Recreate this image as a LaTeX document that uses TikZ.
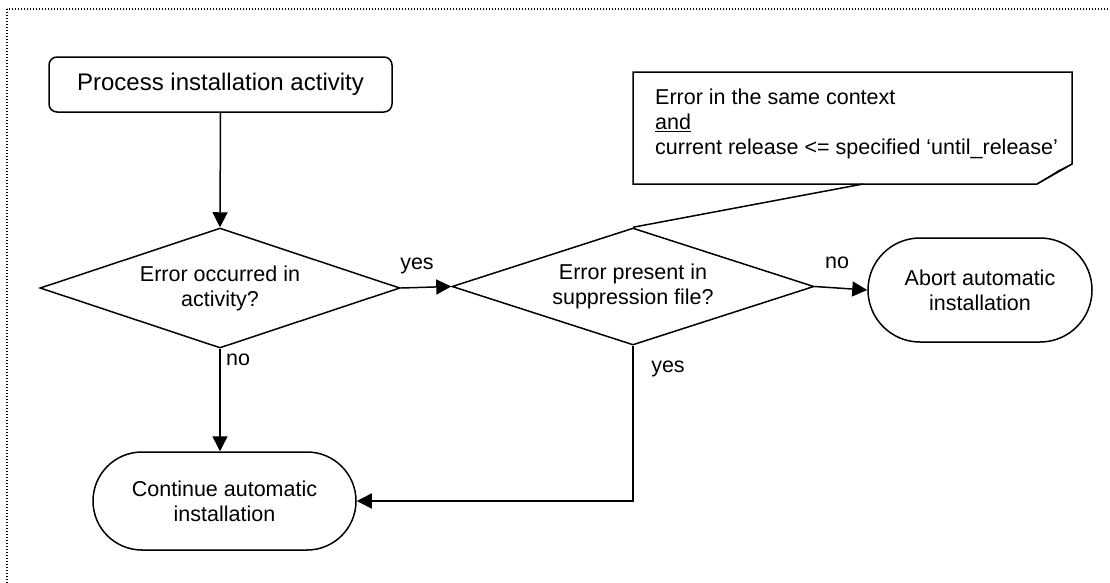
\documentclass[tikz,border=0pt]{standalone}
\usepackage{fontspec}
\setmainfont{Liberation Sans}
\usetikzlibrary{shapes.geometric,arrows.meta}
\begin{document}
\begin{tikzpicture}[x=1pt,y=-1pt,
  txt/.style={font=\fontsize{21.5}{25}\selectfont, align=center},
  proc/.style={draw, line width=1.5pt, rounded corners=8pt, minimum width=343pt, minimum height=55pt, inner sep=0pt, txt},
  term/.style={draw, line width=1.5pt, inner sep=0pt, txt},
  dec/.style={draw, diamond, aspect=2.95, line width=1.5pt, inner sep=0pt, txt},
  arr/.style={line width=1.5pt, -{Triangle[length=15pt,width=15pt]}},
  lbl/.style={font=\fontsize{21.5}{25}\selectfont, inner sep=0pt},
  frame/.style={line width=1.2pt, dash pattern=on 1.2pt off 1.8pt}
]
\useasboundingbox (0,0) rectangle (1110,582);
\draw[frame] (7,9) rectangle (1140,610);

\node[proc, font=\fontsize{24}{27}\selectfont] (p) at (220.5,84.5) {Process installation activity};
\node[dec, minimum width=360pt, minimum height=120pt] (d1) at (220,288) {Error occurred in\\activity?};
\node[dec, minimum width=362pt, minimum height=117pt] (d2) at (633,286.5) {Error present in\\suppression file?};
\node[term, rounded corners=52pt, minimum width=224pt, minimum height=104pt] (ab) at (980,290) {Abort automatic\\installation};
\node[term, rounded corners=49pt, minimum width=263pt, minimum height=98pt] (ct) at (224.5,501) {Continue automatic\\installation};

\coordinate (nTL) at (633,72);
\coordinate (nBR) at (1072,184);
\coordinate (nF1) at (1037,184);
\coordinate (nF2) at (1072,164);
\coordinate (nC) at (863,184);
\draw[line width=1.5pt, fill=white] (nTL) -- (nTL -| nBR) -- (nF2) -- (nF1) -- (nTL |- nBR) -- cycle;
\draw[line width=1pt, fill=gray!40] (nF1) -- (1058,171) -- (nF2) -- cycle;
\node[txt, align=left, anchor=north west, inner sep=0pt] (nt) at (655,89)
  {Error in the same context\\\underline{and}\\current release <= specified ‘until\_release’};
\draw[line width=1.5pt] (nC) -- (d2.north);

\draw[arr] (p.south) -- (d1.north);
\draw[arr] (d1.east) -- (d2.west);
\node[lbl] (y1) at (417,266) {yes};
\draw[arr] (d2.east) -- (ab.west);
\node[lbl] (n2) at (837,263) {no};
\draw[arr] (d1.south) -- (ct.north -| d1.south);
\node[lbl] (n1) at (238,360) {no};
\draw[arr] (d2.south) |- (ct.east);
\node[lbl] (y2) at (668,369) {yes};
\end{tikzpicture}
\end{document}
